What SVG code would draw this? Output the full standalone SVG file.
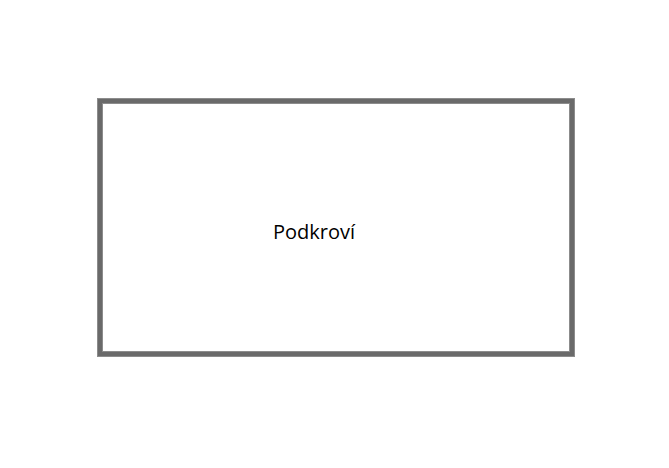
<svg xmlns="http://www.w3.org/2000/svg" width="669" height="468" viewBox="0 0 669 468">
<style>
.room{fill:#ffffff;stroke:#6a6a6a;stroke-width:6}
.edge{fill:none;stroke:#8c8c8c;stroke-width:1}
.lbl{font-family:"Open Sans","Noto Sans",sans-serif;font-size:20px;fill:#000000}
</style>
<rect width="669" height="468" fill="#ffffff"/>
<g id="podkrovi">
<rect class="room" x="100" y="101" width="472" height="253"/>
<rect class="edge" x="97.5" y="98.5" width="477" height="258"/>
<rect class="edge" x="102.5" y="103.5" width="467" height="248"/>
<text class="lbl" x="273" y="239">Podkroví</text>
</g>
</svg>
